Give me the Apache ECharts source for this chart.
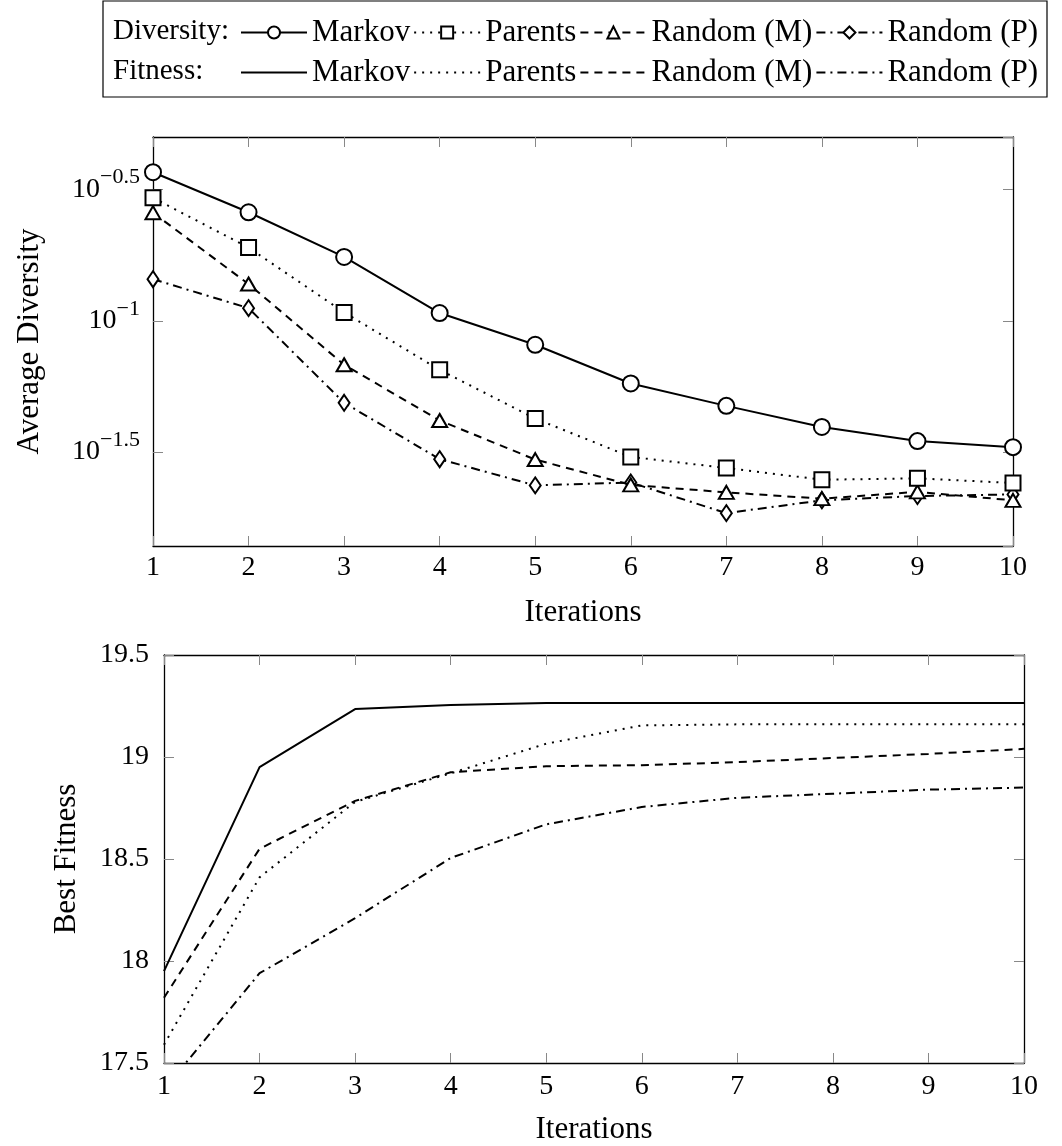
<!DOCTYPE html>
<html>
<head>
<meta charset="utf-8">
<script src="https://cdn.jsdelivr.net/npm/echarts@6/dist/echarts.min.js"></script>
<style>
html,body{margin:0;padding:0;background:#fff;}
#chart{width:1062px;height:1146px;}
</style>
</head>
<body>
<div id="chart"></div>
<script>
// ---- data ----
const iterations = [1, 2, 3, 4, 5, 6, 7, 8, 9, 10];
const seriesNames = ['Markov', 'Parents', 'Random (M)', 'Random (P)'];

// Average diversity (log scale)
const markovDiv  = [0.368, 0.259, 0.175, 0.107, 0.081, 0.0577, 0.0474, 0.0394, 0.0348, 0.0330];
const parentsDiv = [0.294, 0.190, 0.1076, 0.0650, 0.0424, 0.0303, 0.0275, 0.0248, 0.0251, 0.0241];
const randMDiv   = [0.258, 0.138, 0.068, 0.0417, 0.0296, 0.0237, 0.0222, 0.0210, 0.0223, 0.0207];
const randPDiv   = [0.144, 0.1117, 0.0487, 0.0297, 0.0236, 0.0242, 0.0185, 0.0207, 0.0215, 0.0218];

// Best fitness
const markovFit  = [17.95, 18.95, 19.235, 19.255, 19.265, 19.265, 19.265, 19.265, 19.265, 19.265];
const parentsFit = [17.59, 18.41, 18.78, 18.92, 19.065, 19.155, 19.16, 19.16, 19.16, 19.16];
const randMFit   = [17.82, 18.55, 18.785, 18.925, 18.955, 18.96, 18.975, 18.995, 19.015, 19.04];
const randPFit   = [17.37, 17.94, 18.21, 18.505, 18.67, 18.755, 18.80, 18.82, 18.84, 18.85];

const divTickExps = [-0.5, -1, -1.5];
const fitTicks = [17.5, 18, 18.5, 19, 19.5];

// ---- styling helpers ----
const FONT = 'Liberation Serif';
const pairs = (vals) => iterations.map((x, i) => [x, vals[i]]);
const lineTypes = ['solid', [2, 6], [8, 6], [9, 5, 2, 5]];
const symbols = ['emptyCircle', 'emptyRect', 'emptyTriangle', 'emptyDiamond'];
const symbolSizes = [16, 15, [15, 13], [11, 16]];

function axisCommon(gridIndex, position) {
  return {
    gridIndex: gridIndex,
    position: position,
    axisLine: { show: true, onZero: false, lineStyle: { color: '#000', width: 1.3 } },
    axisTick: { show: true, inside: true, length: 10, lineStyle: { color: '#888', width: 1 } },
    splitLine: { show: false },
    axisLabel: { color: '#000', fontFamily: FONT, fontSize: 28 },
    nameTextStyle: { color: '#000', fontFamily: FONT, fontSize: 31 }
  };
}

function xAxis(gridIndex, position, withLabels, margin, nameGap) {
  const a = axisCommon(gridIndex, position);
  Object.assign(a, { type: 'value', min: 1, max: 10, interval: 1 });
  a.axisLabel.show = withLabels;
  a.axisLabel.margin = margin || 8;
  if (withLabels) {
    a.name = 'Iterations';
    a.nameLocation = 'middle';
    a.nameGap = nameGap;
  }
  return a;
}

const logMin = Math.pow(10, -1.858);
const logMax = Math.pow(10, -0.30);

function yLog(position, withLabels) {
  const a = axisCommon(0, position);
  Object.assign(a, { type: 'log', logBase: Math.sqrt(10), min: logMin, max: logMax });
  a.axisLabel.show = withLabels;
  a.axisLabel.showMinLabel = false;
  a.axisLabel.showMaxLabel = false;
  a.axisLabel.margin = 13;
  a.axisLabel.formatter = function (v) {
    const e = Math.log10(v);
    const r = Math.round(e * 2) / 2;
    if (Math.abs(e - r) > 0.01 || divTickExps.indexOf(r) < 0) return '';
    return '{b|10}{s|' + (r < 0 ? '\u2212' : '') + Math.abs(r) + '}';
  };
  a.axisLabel.rich = {
    b: { fontFamily: FONT, fontSize: 28, color: '#000', lineHeight: 46, verticalAlign: 'middle' },
    s: { fontFamily: FONT, fontSize: 22, color: '#000', lineHeight: 22, verticalAlign: 'top' }
  };
  if (withLabels) {
    a.name = 'Average Diversity';
    a.nameLocation = 'middle';
    a.nameGap = 108;
  }
  return a;
}

function yFit(position, withLabels) {
  const a = axisCommon(1, position);
  Object.assign(a, { type: 'value', min: fitTicks[0], max: fitTicks[fitTicks.length - 1], interval: 0.5 });
  a.axisLabel.show = withLabels;
  a.axisLabel.margin = 15;
  if (withLabels) {
    a.name = 'Best Fitness';
    a.nameLocation = 'middle';
    a.nameGap = 82;
  }
  return a;
}

const divData = [markovDiv, parentsDiv, randMDiv, randPDiv];
const fitData = [markovFit, parentsFit, randMFit, randPFit];

const series = [];
divData.forEach((vals, i) => {
  series.push({
    name: 'Diversity|' + seriesNames[i],
    type: 'line',
    xAxisIndex: 0, yAxisIndex: 0,
    data: pairs(vals),
    symbol: symbols[i],
    symbolSize: symbolSizes[i],
    showSymbol: true,
    lineStyle: { color: '#000', width: 2, type: lineTypes[i] },
    itemStyle: { color: '#000', borderColor: '#000', borderWidth: 2 },
    z: 10 - i
  });
});
fitData.forEach((vals, i) => {
  series.push({
    name: 'Fitness|' + seriesNames[i],
    type: 'line',
    xAxisIndex: 2, yAxisIndex: 2,
    data: pairs(vals),
    symbol: 'none',
    showSymbol: false,
    clip: true,
    lineStyle: { color: '#000', width: 2, type: lineTypes[i] },
    itemStyle: { color: '#000' }
  });
});

const legendCommon = {
  left: 240,
  padding: 0,
  itemWidth: 66,
  itemHeight: 15,
  itemGap: 3,
  selectedMode: false,
  formatter: (n) => n.split('|')[1],
  textStyle: { fontFamily: FONT, fontSize: 31, color: '#000' }
};

const option = {
  animation: false,
  backgroundColor: '#fff',
  textStyle: { fontFamily: FONT, color: '#000' },
  graphic: [
    { type: 'rect', shape: { x: 103, y: 1, width: 944, height: 96 },
      style: { fill: 'none', stroke: '#000', lineWidth: 1.2 } },
    { type: 'text', left: 113, top: 17,
      style: { text: 'Diversity:', font: '29px "Liberation Serif"', fill: '#000' } },
    { type: 'text', left: 113, top: 57,
      style: { text: 'Fitness:', font: '29px "Liberation Serif"', fill: '#000' } }
  ],
  legend: [
    Object.assign({}, legendCommon, { top: 17, data: series.slice(0, 4).map(s => s.name) }),
    Object.assign({}, legendCommon, { top: 57, data: series.slice(4).map(s => s.name), itemStyle: { opacity: 0 } })
  ],
  grid: [
    { left: 153, right: 49, top: 137, height: 409 },
    { left: 164, right: 38, top: 655, height: 409 }
  ],
  xAxis: [
    xAxis(0, 'bottom', true, 8, 51),
    xAxis(0, 'top', false),
    xAxis(1, 'bottom', true, 10, 51),
    xAxis(1, 'top', false)
  ],
  yAxis: [
    yLog('left', true),
    yLog('right', false),
    yFit('left', true),
    yFit('right', false)
  ],
  series: series
};

const chart = echarts.init(document.getElementById('chart'), null, { renderer: 'canvas' });
chart.setOption(option);
</script>
</body>
</html>
